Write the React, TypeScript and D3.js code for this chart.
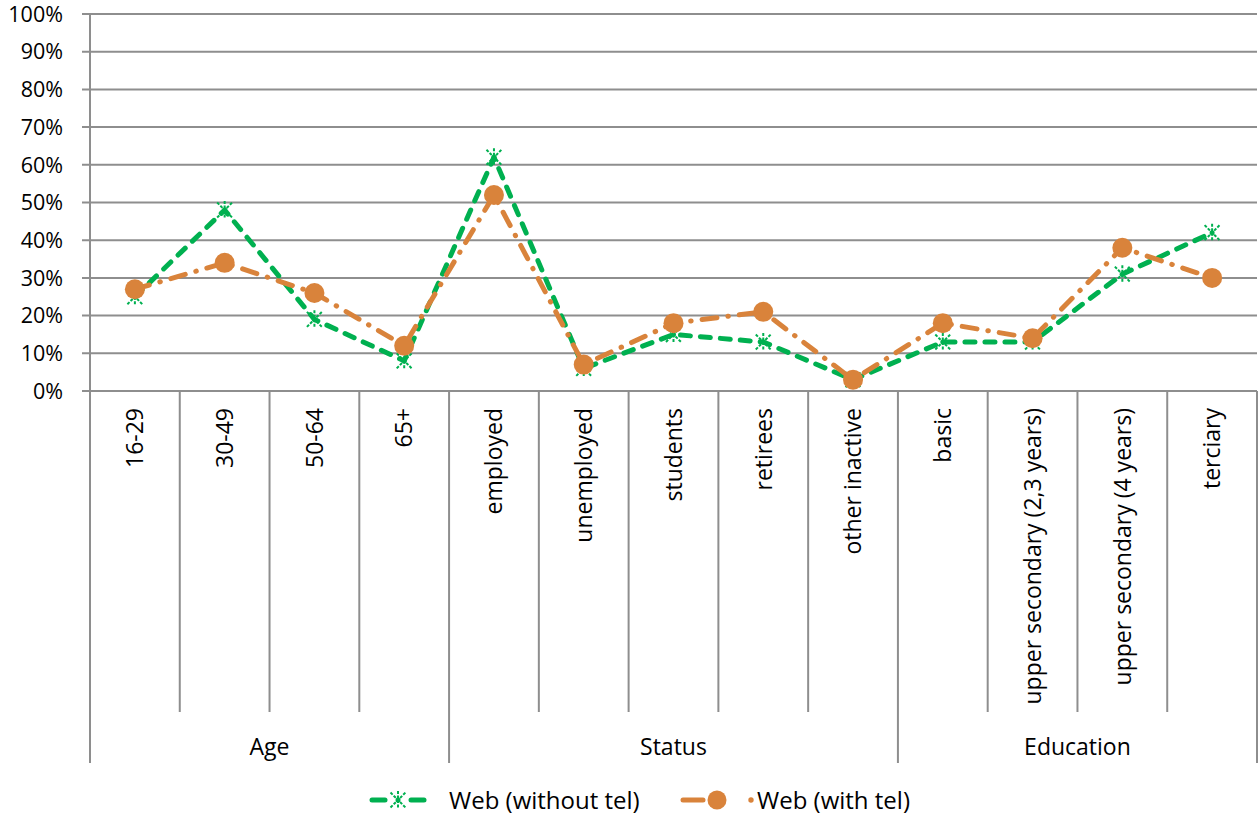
import React from "react";
import * as d3 from "d3";

const categories = [
  "16-29", "30-49", "50-64", "65+",
  "employed", "unemployed", "students", "retirees", "other inactive",
  "basic", "upper secondary (2,3 years)", "upper secondary (4 years)", "terciary",
];
const groups = [
  { name: "Age", start: 0, end: 4 },
  { name: "Status", start: 4, end: 9 },
  { name: "Education", start: 9, end: 13 },
];
const webWithoutTel = [25, 48, 19, 8, 62, 6, 15, 13, 3, 13, 13, 31, 42];
const webWithTel = [27, 34, 26, 12, 52, 7, 18, 21, 3, 18, 14, 38, 30];
const yTicks = [0, 10, 20, 30, 40, 50, 60, 70, 80, 90, 100];

const W = 1260;
const H = 816;
const left = 90;
const right = 1257;
const top = 14;
const bottom = 391;
const GREEN = "#00B050";
const ORANGE = "#D9833B";
const GRID = "#8E8E8E";
const FONT = "'Open Sans', 'DejaVu Sans', sans-serif";

function Star({ x, y }: { x: number; y: number }) {
  const s = 7.5;
  return (
    <g transform={`translate(${x},${y})`} stroke={GREEN} strokeWidth={2} strokeDasharray="3,1.5" fill="none">
      <line x1={-s} y1={-s} x2={s} y2={s} />
      <line x1={-s} y1={s} x2={s} y2={-s} />
      <line x1={0} y1={-s - 1.5} x2={0} y2={s + 1.5} />
      <circle r={2.5} fill={GREEN} stroke="none" />
    </g>
  );
}

export default function App() {
  const x = d3.scaleBand<number>().domain(d3.range(categories.length)).range([left, right]);
  const y = d3.scaleLinear().domain([0, 100]).range([bottom, top]);
  const cx = (i: number) => (x(i) as number) + x.bandwidth() / 2;

  const line = d3
    .line<number>()
    .x((_, i) => cx(i))
    .y((d) => y(d));

  const boundary = (i: number) => left + i * x.step();
  const groupEdges = new Set<number>();
  groups.forEach((g) => {
    groupEdges.add(g.start);
    groupEdges.add(g.end);
  });

  return (
    <svg width={W} height={H} style={{ position: "absolute", left: 0, top: 0, background: "#fff" }} fontFamily={FONT}>
      {yTicks.map((t) => (
        <g key={t}>
          <line x1={left - 8} x2={right} y1={y(t)} y2={y(t)} stroke={GRID} strokeWidth={2} />
          <text x={63} y={y(t)} dy="0.36em" textAnchor="end" fontSize={21.5} fill="#000">
            {t}%
          </text>
        </g>
      ))}
      <line x1={left} x2={left} y1={top} y2={bottom} stroke={GRID} strokeWidth={2} />
      {d3.range(categories.length + 1).map((i) => (
        <line
          key={i}
          x1={boundary(i)}
          x2={boundary(i)}
          y1={bottom}
          y2={groupEdges.has(i) ? 763 : 712}
          stroke={GRID}
          strokeWidth={2}
        />
      ))}
      {categories.map((c, i) => (
        <text
          key={c}
          transform={`translate(${cx(i)},408) rotate(-90)`}
          dy="0.36em"
          textAnchor="end"
          fontSize={23}
          fill="#000"
        >
          {c}
        </text>
      ))}
      {groups.map((g) => (
        <text
          key={g.name}
          x={(boundary(g.start) + boundary(g.end)) / 2}
          y={755}
          textAnchor="middle"
          fontSize={23}
          fill="#000"
        >
          {g.name}
        </text>
      ))}
      <path
        d={line(webWithoutTel) || ""}
        fill="none"
        stroke={GREEN}
        strokeWidth={5}
        strokeDasharray="10,10"
        strokeLinecap="round"
        strokeLinejoin="round"
      />
      {webWithoutTel.map((v, i) => (
        <Star key={i} x={cx(i)} y={y(v)} />
      ))}
      <path
        d={line(webWithTel) || ""}
        fill="none"
        stroke={ORANGE}
        strokeWidth={5}
        strokeDasharray="15,11,0.5,11"
        strokeLinecap="round"
        strokeLinejoin="round"
      />
      {webWithTel.map((v, i) => (
        <circle key={i} cx={cx(i)} cy={y(v)} r={10} fill={ORANGE} />
      ))}
      <g>
        <line x1={372} x2={385} y1={800} y2={800} stroke={GREEN} strokeWidth={5} strokeLinecap="round" />
        <line x1={411} x2={424} y1={800} y2={800} stroke={GREEN} strokeWidth={5} strokeLinecap="round" />
        <Star x={398} y={800} />
        <text x={449} y={800} dy="0.36em" fontSize={24} fill="#000">
          Web (without tel)
        </text>
        <line x1={683} x2={703} y1={800} y2={800} stroke={ORANGE} strokeWidth={5} strokeLinecap="round" />
        <circle cx={717} cy={800} r={9.5} fill={ORANGE} />
        <circle cx={751} cy={800} r={2.7} fill={ORANGE} />
        <text x={757} y={800} dy="0.36em" fontSize={24} fill="#000">
          Web (with tel)
        </text>
      </g>
    </svg>
  );
}
